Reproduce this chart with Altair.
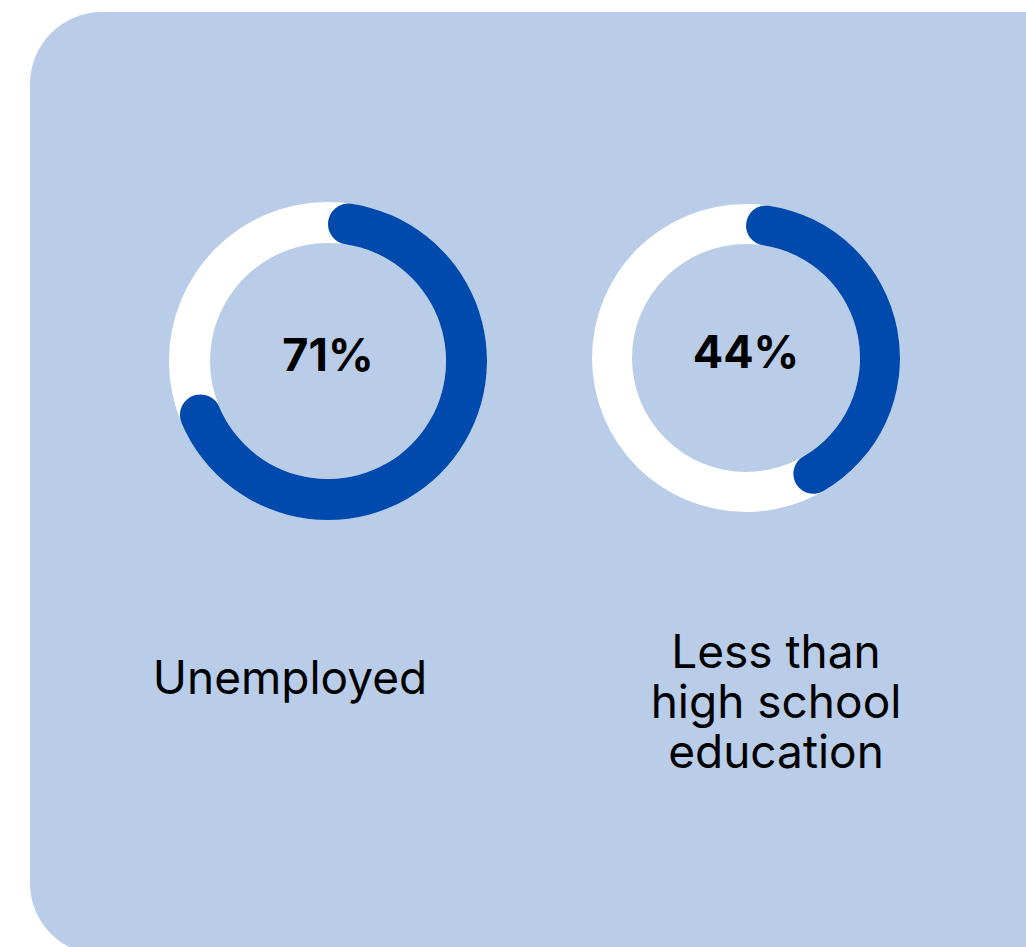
import altair as alt
import pandas as pd

# Data
categories = ["Unemployed", "Less than\nhigh school\neducation"]
percent_labels = ["71%", "44%"]
values = [71, 44]

BLUE = "#004AAD"
PANEL = "#B9CDE9"

centers = [(328, 361), (746, 358)]
radii = [(159, 118), (154, 114)]
label_pos = [(290, 694), (776, 668)]

bg = alt.Chart(pd.DataFrame({"k": [0]})).mark_rect(
    color=PANEL, cornerRadius=72
).encode(
    x=alt.value(30), x2=alt.value(1130), y=alt.value(12), y2=alt.value(955)
)

layers = [bg]
theta_scale = alt.Scale(domain=[0, 100], range=[0, 6.283185307])

for i, (cat, lab, v) in enumerate(zip(categories, percent_labels, values)):
    cx, cy = centers[i]
    ro, ri = radii[i]
    df = pd.DataFrame({"category": [cat], "start": [0], "end": [v], "full": [100], "label": [lab]})
    ring = alt.Chart(df).mark_arc(
        color="white", outerRadius=ro, innerRadius=ri
    ).encode(
        theta=alt.Theta("start:Q", scale=theta_scale),
        theta2="full:Q",
        x=alt.value(cx), y=alt.value(cy),
    )
    arc = alt.Chart(df).mark_arc(
        color=BLUE, outerRadius=ro, innerRadius=ri, cornerRadius=(ro - ri) / 2
    ).encode(
        theta=alt.Theta("start:Q", scale=theta_scale),
        theta2="end:Q",
        x=alt.value(cx), y=alt.value(cy),
    )
    pct = alt.Chart(df).mark_text(
        font="Inter", fontWeight="bold", fontSize=45,
        align="center", baseline="alphabetic", color="black"
    ).encode(
        text="label:N", x=alt.value(cx), y=alt.value(cy + 10),
    )
    lx, ly = label_pos[i]
    name = alt.Chart(df).mark_text(
        font="Inter", fontSize=46, lineBreak="\n", lineHeight=50,
        align="center", baseline="alphabetic", color="black"
    ).encode(
        text="category:N", x=alt.value(lx), y=alt.value(ly),
    )
    layers += [ring, arc, pct, name]

chart = alt.layer(*layers).properties(
    width=1026, height=947, padding=0, autosize="none", background="white"
).configure_view(stroke=None)

chart.save("out.html", embed_options={"renderer": "svg", "actions": False})
